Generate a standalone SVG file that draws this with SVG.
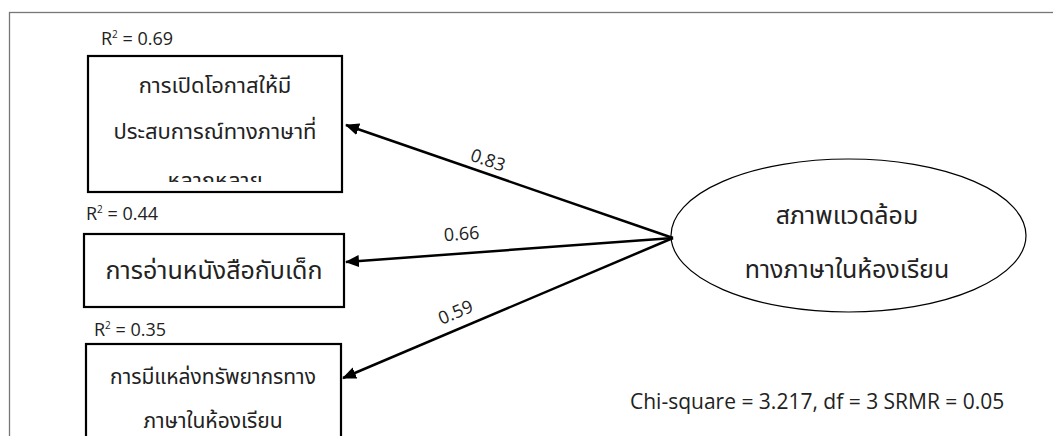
<svg xmlns="http://www.w3.org/2000/svg" width="1053" height="436" viewBox="0 0 1053 436">
<style>
.frame{fill:none;stroke:#777;stroke-width:1.3}
.box{fill:#fff;stroke:#000;stroke-width:2.2}
.ell{fill:#fff;stroke:#000;stroke-width:1.2}
.th{font-family:"Noto Sans Thai","Noto Sans","DejaVu Sans",sans-serif;fill:#222;text-anchor:middle}
.lat{font-family:"Open Sans","Liberation Sans",sans-serif;fill:#222}
.conn{stroke:#000;stroke-width:2.5;fill:none;marker-end:url(#ah)}
</style>
<defs>
<marker id="ah" viewBox="0 0 14 12" refX="13" refY="6" markerWidth="14" markerHeight="12" markerUnits="userSpaceOnUse" orient="auto">
<path d="M0,0 L14,6 L0,12 Z" fill="#000"/>
</marker>
<clipPath id="c1"><rect x="88" y="56" width="254" height="126"/></clipPath>
</defs>
<rect width="1053" height="436" fill="#fff"/>
<rect class="frame" x="9.5" y="12.5" width="1060" height="440"/>
<g id="node-opportunity">
<text class="lat" x="101" y="45" font-size="18">R<tspan font-size="10" dy="-7">2</tspan><tspan dy="7"> = 0.69</tspan></text>
<rect class="box" x="88" y="56" width="254" height="136"/>
<g clip-path="url(#c1)">
<text class="th" x="215" y="93" font-size="22">การเปิดโอกาสให้มี</text>
<text class="th" x="215" y="139" font-size="22">ประสบการณ์ทางภาษาที่</text>
<text class="th" x="215" y="188" font-size="22">หลากหลาย</text>
</g>
</g>
<g id="node-reading">
<text class="lat" x="86" y="220" font-size="18">R<tspan font-size="10" dy="-7">2</tspan><tspan dy="7"> = 0.44</tspan></text>
<rect class="box" x="84" y="234" width="260" height="73"/>
<text class="th" x="214" y="279" font-size="25">การอ่านหนังสือกับเด็ก</text>
</g>
<g id="node-resources">
<text class="lat" x="94" y="336" font-size="18">R<tspan font-size="10" dy="-7">2</tspan><tspan dy="7"> = 0.35</tspan></text>
<rect class="box" x="86" y="344" width="255" height="110"/>
<text class="th" x="213" y="384" font-size="21">การมีแหล่งทรัพยากรทาง</text>
<text class="th" x="213" y="428" font-size="21">ภาษาในห้องเรียน</text>
</g>
<g id="node-environment">
<ellipse class="ell" cx="848.5" cy="235.5" rx="177.5" ry="76.5"/>
<text class="th" x="847" y="224" font-size="25">สภาพแวดล้อม</text>
<text class="th" x="847" y="278" font-size="25">ทางภาษาในห้องเรียน</text>
</g>
<g id="connectors">
<line class="conn" x1="673" y1="238" x2="346" y2="125"/>
<line class="conn" x1="673" y1="238" x2="346" y2="262"/>
<line class="conn" x1="673" y1="238" x2="343" y2="378"/>
<text class="lat" font-size="18" text-anchor="middle" transform="translate(486,166) rotate(19)">0.83</text>
<text class="lat" font-size="18" text-anchor="middle" transform="translate(462,240) rotate(-4)">0.66</text>
<text class="lat" font-size="18" text-anchor="middle" transform="translate(458,318) rotate(-23)">0.59</text>
</g>
<text class="lat" x="630" y="409" font-size="21">Chi-square = 3.217, df = 3 SRMR = 0.05</text>
</svg>
